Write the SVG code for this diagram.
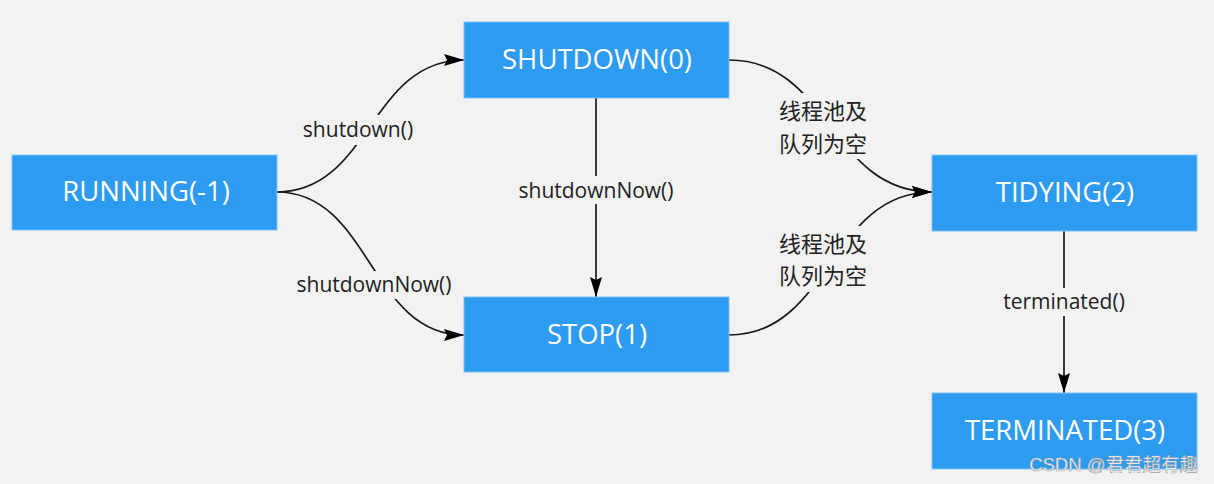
<svg xmlns="http://www.w3.org/2000/svg" width="1214" height="484" viewBox="0 0 1214 484">
<defs>
<style>
.box{fill:#2d9bef;stroke:#7cc0f4;stroke-width:1}
.t{font-family:"Open Sans","Noto Sans",sans-serif;font-size:27.5px;fill:#ffffff;text-anchor:middle;dominant-baseline:central}
.lbl{font-family:"Open Sans","Noto Sans","Noto Sans CJK SC",sans-serif;font-size:21px;fill:#222;text-anchor:middle;dominant-baseline:central}
.cjk{font-family:"Noto Sans CJK SC",sans-serif;font-size:22px;fill:#222;text-anchor:middle;dominant-baseline:central}
.e{fill:none;stroke:#1a1a1a;stroke-width:1.7}
.bg{fill:#f2f2f2}
</style>
<marker id="arr" viewBox="0 0 20 12" refX="20" refY="6" markerWidth="20" markerHeight="12" markerUnits="userSpaceOnUse" orient="auto">
<path d="M0,0 L20,6 L0,12 L3,6 Z" fill="#000"/>
</marker>
</defs>
<rect width="1214" height="484" fill="#f2f2f2"/>
<g id="connectors">
<path class="e" d="M277,192 C370,192 370,60 464,60" marker-end="url(#arr)"/>
<path class="e" d="M277,192 C370,192 370,335 464,335" marker-end="url(#arr)"/>
<path class="e" d="M596,98 L596,297" marker-end="url(#arr)"/>
<path class="e" d="M729,60 C830,60 830,192 932,192" marker-end="url(#arr)"/>
<path class="e" d="M729,335 C830,335 830,192 932,192" marker-end="url(#arr)"/>
<path class="e" d="M1064,231 L1064,393" marker-end="url(#arr)"/>
<rect class="bg" x="292" y="115" width="132" height="30"/>
<text class="lbl" x="358" y="129">shutdown()</text>
<rect class="bg" x="286" y="271" width="176" height="28"/>
<text class="lbl" x="374" y="284">shutdownNow()</text>
<rect class="bg" x="508" y="176" width="176" height="28"/>
<text class="lbl" x="596" y="190">shutdownNow()</text>
<rect class="bg" x="772" y="93" width="102" height="66"/>
<text class="cjk" x="823" y="109">线程池及</text>
<text class="cjk" x="823" y="142">队列为空</text>
<rect class="bg" x="772" y="226" width="102" height="66"/>
<text class="cjk" x="823" y="242">线程池及</text>
<text class="cjk" x="823" y="274">队列为空</text>
<rect class="bg" x="994" y="288" width="142" height="28"/>
<text class="lbl" x="1064" y="301">terminated()</text>
</g>
<g id="running"><rect class="box" x="12" y="155" width="265" height="75"/><text class="t" x="146" y="190">RUNNING(-1)</text></g>
<g id="shutdown"><rect class="box" x="464" y="22" width="265" height="76"/><text class="t" x="597" y="58">SHUTDOWN(0)</text></g>
<g id="stop"><rect class="box" x="464" y="297" width="265" height="75"/><text class="t" x="597" y="333">STOP(1)</text></g>
<g id="tidying"><rect class="box" x="932" y="155" width="265" height="76"/><text class="t" x="1065" y="191">TIDYING(2)</text></g>
<g id="terminated"><rect class="box" x="932" y="393" width="265" height="76"/><text class="t" x="1065" y="429">TERMINATED(3)</text></g>
<text x="1198" y="464" font-family="'Liberation Sans','Noto Sans CJK SC',sans-serif" font-size="18.5" fill="#ffffff" stroke="#9aa0a6" stroke-width="0.6" text-anchor="end" dominant-baseline="central">CSDN @君君超有趣</text>
</svg>
